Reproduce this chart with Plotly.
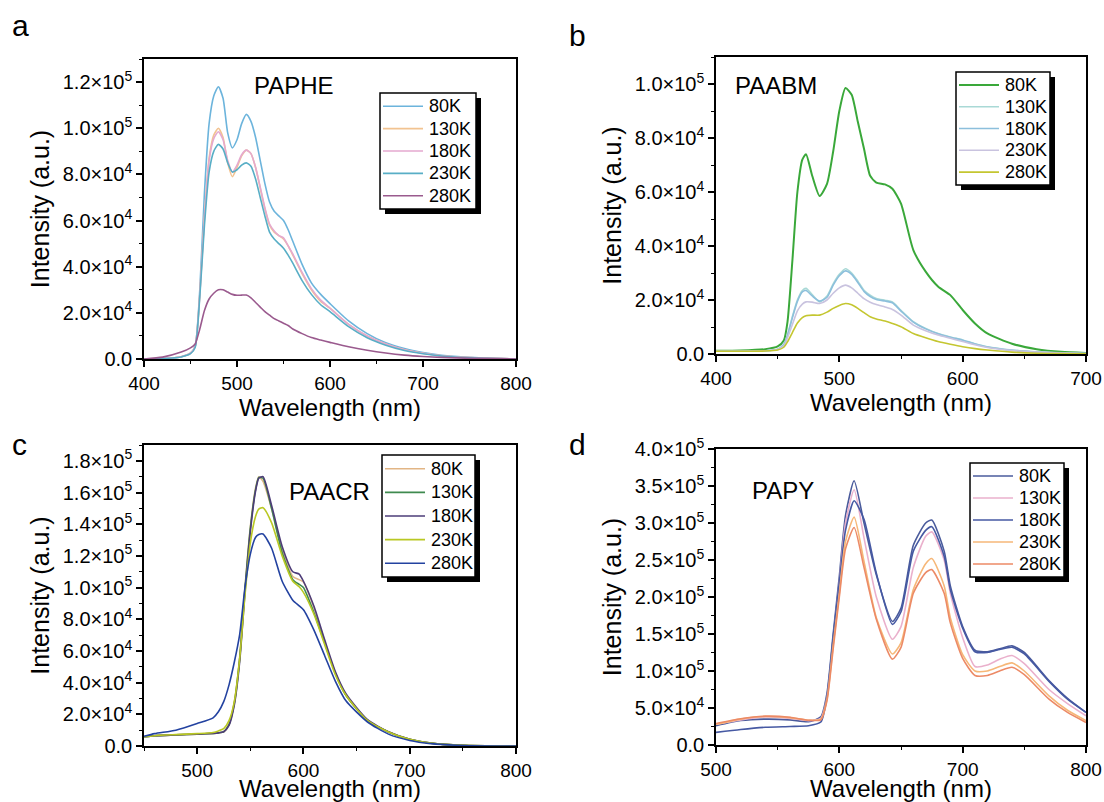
import plotly.graph_objects as go

W, H = 1104, 802
FONT = "Liberation Sans, Arial, sans-serif"
temps = ["80K", "130K", "180K", "230K", "280K"]

# ---------------- Panel a : PAPHE ----------------
wl_a = [400, 420, 440, 450, 455, 460, 465, 470, 475, 480, 485, 490, 495, 500, 505, 510, 515, 520, 525, 530,
        535, 540, 545, 550, 555, 560, 570, 580, 590, 600, 620, 640, 660, 680, 700, 720, 750, 800]
a_80K = [0, 200, 1000, 2500, 5500, 30000, 72000, 102000, 114000, 118000, 113000, 98000, 91500, 95000, 102000,
         106000, 103000, 96000, 86000, 76000, 68000, 64000, 62000, 60000, 56000, 51000, 41000, 33000, 28000,
         24000, 16500, 11000, 7000, 4500, 2800, 1600, 700, 0]
a_130K = [0, 200, 1000, 2500, 5500, 28000, 62000, 87000, 97000, 100000, 96000, 85000, 79000, 83000, 88000,
          90500, 89000, 83000, 74000, 65000, 58000, 55000, 53500, 52000, 49000, 45000, 37000, 30000, 25000,
          22000, 15000, 10000, 6500, 4000, 2500, 1400, 600, 0]
a_180K = [0, 200, 1000, 2500, 5500, 28000, 61000, 86000, 95500, 98500, 95000, 86000, 81000, 84000, 88500,
          90500, 89000, 83000, 74500, 65500, 58500, 55500, 53500, 52500, 49000, 45500, 37500, 30500, 25500,
          22000, 15000, 10000, 6500, 4000, 2500, 1400, 600, 0]
a_230K = [0, 200, 900, 2300, 5000, 27000, 58000, 81000, 90000, 93000, 91000, 85000, 81000, 82000, 84000,
          85000, 83500, 78000, 70000, 62000, 55000, 52000, 50000, 48000, 45000, 41500, 34000, 28000, 23500,
          20500, 14000, 9200, 6000, 3700, 2300, 1300, 500, 0]
a_280K = [0, 800, 3000, 4800, 6500, 13000, 21000, 26000, 28500, 30000, 30000, 29000, 28000, 27600, 27700,
          27700, 26500, 24500, 22500, 20500, 19000, 17500, 16500, 15500, 14500, 13000, 11000, 9300, 8200,
          7200, 5300, 3800, 2600, 1700, 1100, 700, 300, 0]
colors_a = ["#6cb4dc", "#f2c391", "#e5a9cf", "#58aec6", "#9a5a8e"]

# ---------------- Panel b : PAABM ----------------
wl_b = [400, 420, 440, 450, 455, 458, 462, 466, 470, 473, 478, 484, 490, 495, 500, 505, 510, 515, 520, 525,
        530, 537, 543, 550, 560, 570, 580, 590, 600, 610, 620, 640, 660, 680, 700]
b_80K = [1200, 1300, 1800, 2800, 5000, 12000, 35000, 60000, 72000, 74000, 66000, 58500, 63000, 75000, 90000,
         98500, 96000, 86000, 76000, 66000, 63500, 62800, 61200, 55700, 38500, 30500, 25000, 21800, 16300,
         11300, 7600, 3800, 1800, 800, 400]
b_130K = [1000, 1000, 1200, 1800, 3500, 7000, 14000, 20000, 23500, 24300, 22000, 19300, 21500, 26000, 29500,
          31600, 30000, 27000, 23600, 21800, 20600, 19900, 19300, 16200, 12000, 9500, 7600, 6300, 5200, 3800,
          2700, 1500, 800, 400, 200]
b_180K = [1000, 1000, 1200, 1800, 3500, 7000, 13500, 19500, 23000, 23500, 21500, 19600, 21000, 25500, 29000,
          30800, 29500, 26500, 23200, 21300, 20200, 19600, 19000, 15900, 11800, 9300, 7500, 6200, 5100, 3700,
          2600, 1400, 700, 350, 200]
b_230K = [1000, 1000, 1200, 1700, 3000, 6000, 11000, 16000, 18500, 19300, 19200, 18700, 20000, 22500, 24500,
          25500, 24500, 22500, 20500, 19200, 18300, 17400, 16500, 14400, 10700, 8600, 7000, 5800, 4600, 3400,
          2400, 1300, 700, 350, 150]
b_280K = [1000, 1000, 1100, 1500, 2500, 4500, 8000, 11500, 13500, 14200, 14400, 14400, 15500, 16900, 18000,
          18700, 18200, 16900, 15300, 13800, 13000, 12200, 11300, 10100, 7600, 6000, 4600, 3600, 2700, 2000,
          1500, 700, 300, 150, 100]
colors_b = ["#3aa83a", "#a9d9d6", "#8cbfdc", "#c9c3df", "#c4c630"]

# ---------------- Panel c : PAACR ----------------
wl_c = [450, 460, 480, 500, 515, 520, 525, 530, 535, 540, 545, 550, 555, 558, 562, 570, 580, 590, 596, 600,
        610, 620, 630, 640, 660, 680, 700, 720, 750, 800]
c_80K = [5800, 6500, 7000, 7500, 8000, 8300, 9000, 14000, 28000, 56000, 100000, 138000, 163000, 170000, 167000,
         150000, 124000, 107000, 105000, 103500, 87000, 66000, 46000, 32000, 16300, 8900, 4200, 1800, 400, 0]
c_130K = [5800, 6500, 7000, 7500, 8000, 8300, 9000, 13500, 27000, 55000, 99000, 137000, 162000, 169500, 169000,
          150000, 122000, 105000, 102000, 100000, 84000, 65000, 46000, 32000, 16300, 8900, 4200, 1800, 400, 0]
c_180K = [5800, 6500, 7000, 7500, 8000, 8300, 9000, 13000, 26000, 53000, 97000, 135000, 161000, 169000, 170000,
          152000, 126000, 110000, 108500, 104000, 88000, 67000, 47000, 33000, 16800, 9000, 4300, 1800, 400, 0]
c_230K = [5800, 6500, 7200, 7800, 8500, 9500, 11000, 16000, 28000, 55000, 95000, 128000, 145000, 149500, 150400,
          141000, 120000, 104000, 100500, 97000, 83000, 64000, 45000, 32000, 16300, 8900, 4200, 1800, 400, 0]
c_280K = [6100, 7800, 10000, 14200, 17800, 21600, 28000, 38600, 53000, 70300, 100000, 121000, 131800, 133500,
          133800, 125000, 104000, 92000, 88500, 86000, 73000, 57000, 41000, 28500, 15300, 7500, 3500, 1500, 300, 0]
colors_c = ["#e2b585", "#3f8a4f", "#4d3c78", "#b9c823", "#2342a0"]

# ---------------- Panel d : PAPY ----------------
wl_d = [500, 520, 540, 560, 575, 585, 590, 595, 600, 605, 612, 620, 630, 643, 650, 660, 670, 675, 685, 690,
        700, 710, 720, 730, 740, 750, 770, 785, 800]
d_80K = [26000, 33000, 35000, 34000, 31500, 38000, 70000, 150000, 228000, 310000, 357000, 300000, 230000, 167000,
         185000, 270000, 300000, 304000, 262000, 215000, 160000, 128000, 126000, 130000, 134000, 125000, 87000,
         63000, 44000]
d_130K = [28000, 34000, 38000, 36000, 33000, 36000, 65000, 140000, 220000, 300000, 345000, 280000, 200000, 143000,
          160000, 240000, 282000, 288000, 250000, 205000, 145000, 106000, 108000, 116000, 121000, 110000, 75000,
          56000, 39500]
d_180K = [17000, 21000, 24000, 25000, 26000, 31000, 65000, 145000, 220000, 290000, 330000, 305000, 232000, 163000,
          180000, 262000, 290000, 295000, 255000, 210000, 158000, 126000, 125000, 129000, 132000, 123000, 86000,
          62000, 44000]
d_230K = [28000, 35000, 38500, 37000, 33500, 35000, 62000, 135000, 205000, 275000, 308000, 248000, 172000, 123000,
          138000, 210000, 245000, 252000, 215000, 172000, 122000, 100000, 100000, 106000, 111000, 100000, 66500,
          47000, 33000]
d_280K = [29000, 35500, 39000, 37500, 33500, 34000, 60000, 130000, 200000, 265000, 294000, 240000, 170000, 116000,
          132000, 205000, 233000, 237000, 205000, 165000, 117000, 94000, 94000, 100000, 105000, 95000, 62000,
          44000, 30500]
colors_d = ["#4a5b9c", "#eab0cc", "#4659a3", "#f6b778", "#ec8a66"]

# ---------------- tick labels ----------------
yt_a = [0, 20000, 40000, 60000, 80000, 100000, 120000]
yl_a = ["0.0", "2.0×10<sup>4</sup>", "4.0×10<sup>4</sup>", "6.0×10<sup>4</sup>", "8.0×10<sup>4</sup>",
        "1.0×10<sup>5</sup>", "1.2×10<sup>5</sup>"]
yt_b = [0, 20000, 40000, 60000, 80000, 100000]
yl_b = ["0.0", "2.0×10<sup>4</sup>", "4.0×10<sup>4</sup>", "6.0×10<sup>4</sup>", "8.0×10<sup>4</sup>",
        "1.0×10<sup>5</sup>"]
yt_c = [0, 20000, 40000, 60000, 80000, 100000, 120000, 140000, 160000, 180000]
yl_c = ["0.0", "2.0×10<sup>4</sup>", "4.0×10<sup>4</sup>", "6.0×10<sup>4</sup>", "8.0×10<sup>4</sup>",
        "1.0×10<sup>5</sup>", "1.2×10<sup>5</sup>", "1.4×10<sup>5</sup>", "1.6×10<sup>5</sup>",
        "1.8×10<sup>5</sup>"]
yt_d = [0, 50000, 100000, 150000, 200000, 250000, 300000, 350000, 400000]
yl_d = ["0.0", "5.0×10<sup>4</sup>", "1.0×10<sup>5</sup>", "1.5×10<sup>5</sup>", "2.0×10<sup>5</sup>",
        "2.5×10<sup>5</sup>", "3.0×10<sup>5</sup>", "3.5×10<sup>5</sup>", "4.0×10<sup>5</sup>"]

panels = [
    dict(wl=wl_a, ys=[a_80K, a_130K, a_180K, a_230K, a_280K], colors=colors_a, name="PAPHE", letter="a",
         px=(144, 516), py=(59, 359), xr=[400, 800], yr=[0, 130000], yt=yt_a, yl=yl_a, ydt=10000,
         box=(380, 93, 476, 209), lab=(10, 25), nm=(294, 86), w80=1.6),
    dict(wl=wl_b, ys=[b_80K, b_130K, b_180K, b_230K, b_280K], colors=colors_b, name="PAABM", letter="b",
         px=(716, 1086), py=(57, 354), xr=[400, 700], yr=[0, 110000], yt=yt_b, yl=yl_b, ydt=10000,
         box=(956, 72, 1050, 185), lab=(567, 35), nm=(776, 85), w80=2.0),
    dict(wl=wl_c, ys=[c_80K, c_130K, c_180K, c_230K, c_280K], colors=colors_c, name="PAACR", letter="c",
         px=(144, 516), py=(445, 746), xr=[450, 800], yr=[0, 190000], yt=yt_c, yl=yl_c, ydt=10000,
         box=(382, 455, 475, 577), lab=(10, 444), nm=(329, 491), w80=1.6),
    dict(wl=wl_d, ys=[d_80K, d_130K, d_180K, d_230K, d_280K], colors=colors_d, name="PAPY", letter="d",
         px=(716, 1086), py=(449, 745), xr=[500, 800], yr=[0, 400000], yt=yt_d, yl=yl_d, ydt=25000,
         box=(970, 463, 1064, 577), lab=(567, 444), nm=(783, 490), w80=1.6),
]


def fx(v):
    return v / W


def fy(v):
    return 1 - v / H


fig = go.Figure()
layout = dict(width=W, height=H, margin=dict(l=0, r=0, t=0, b=0), paper_bgcolor="white",
              plot_bgcolor="white", font=dict(family=FONT, color="black"), showlegend=False)
shapes, annotations = [], []

for i, p in enumerate(panels):
    k = "" if i == 0 else str(i + 1)
    xa, ya = "x" + k, "y" + k
    for j, (t, y, c) in enumerate(zip(temps, p["ys"], p["colors"])):
        lw = p["w80"] if j == 0 else 1.6
        fig.add_trace(go.Scatter(x=p["wl"], y=y, mode="lines", name=t, xaxis=xa, yaxis=ya,
                                 line=dict(color=c, width=lw, shape="spline", smoothing=0.6)))
    xdom = [fx(p["px"][0]), fx(p["px"][1])]
    ydom = [fy(p["py"][1]), fy(p["py"][0])]
    xticks = list(range(p["xr"][0] if p["xr"][0] % 100 == 0 else p["xr"][0] + 50, p["xr"][1] + 1, 100))
    layout["xaxis" + k] = dict(domain=xdom, anchor=ya, range=p["xr"], tickmode="array", tickvals=xticks,
                               ticks="outside", ticklen=6, tickwidth=1.5, tickcolor="black",
                               showline=True, linecolor="black", linewidth=1.5, mirror=True,
                               showgrid=False, zeroline=False, automargin=False,
                               tickfont=dict(size=19, family=FONT),
                               minor=dict(dtick=50, ticks="outside", ticklen=3, tickwidth=1.2,
                                          tickcolor="black", showgrid=False),
                               title=dict(text="Wavelength (nm)", font=dict(size=24, family=FONT), standoff=7))
    layout["yaxis" + k] = dict(domain=ydom, anchor=xa, range=p["yr"], tickmode="array", tickvals=p["yt"],
                               ticktext=p["yl"], ticks="outside", ticklen=6, tickwidth=1.5, tickcolor="black",
                               showline=True, linecolor="black", linewidth=1.5, mirror=True,
                               showgrid=False, zeroline=False, automargin=False,
                               tickfont=dict(size=20, family=FONT),
                               minor=dict(dtick=p["ydt"], ticks="outside", ticklen=3, tickwidth=1.2,
                                          tickcolor="black", showgrid=False),
                               title=dict(text="Intensity (a.u.)", font=dict(size=25, family=FONT), standoff=6))

    # legend box with drop shadow
    x0, y0, x1, y1 = p["box"]
    shapes.append(dict(type="rect", xref="paper", yref="paper", x0=fx(x0 + 5), x1=fx(x1 + 5),
                       y0=fy(y1 + 5), y1=fy(y0 + 5), fillcolor="black", line=dict(width=0), layer="above"))
    shapes.append(dict(type="rect", xref="paper", yref="paper", x0=fx(x0), x1=fx(x1), y0=fy(y1), y1=fy(y0),
                       fillcolor="white", line=dict(color="black", width=1.5), layer="above"))
    step = (y1 - y0 - 4) / 5.0
    for j, (t, c) in enumerate(zip(temps, p["colors"])):
        yc = y0 + 2 + step * (j + 0.5)
        lw = p["w80"] if j == 0 else 1.6
        shapes.append(dict(type="line", xref="paper", yref="paper", x0=fx(x0 + 3), x1=fx(x0 + 43),
                           y0=fy(yc), y1=fy(yc), line=dict(color=c, width=lw), layer="above"))
        annotations.append(dict(text=t, x=fx(x0 + 47), y=fy(yc), xref="paper", yref="paper",
                                xanchor="left", yanchor="middle", showarrow=False,
                                font=dict(size=18, family=FONT)))

    annotations.append(dict(text=p["letter"], x=fx(p["lab"][0]), y=fy(p["lab"][1]), xref="paper",
                            yref="paper", xanchor="left", yanchor="middle", showarrow=False,
                            font=dict(size=30, family=FONT)))
    annotations.append(dict(text=p["name"], x=fx(p["nm"][0]), y=fy(p["nm"][1]), xref="paper",
                            yref="paper", xanchor="center", yanchor="middle", showarrow=False,
                            font=dict(size=24, family=FONT)))

layout["shapes"] = shapes
layout["annotations"] = annotations
fig.update_layout(**layout)
fig.write_html("out.html")
